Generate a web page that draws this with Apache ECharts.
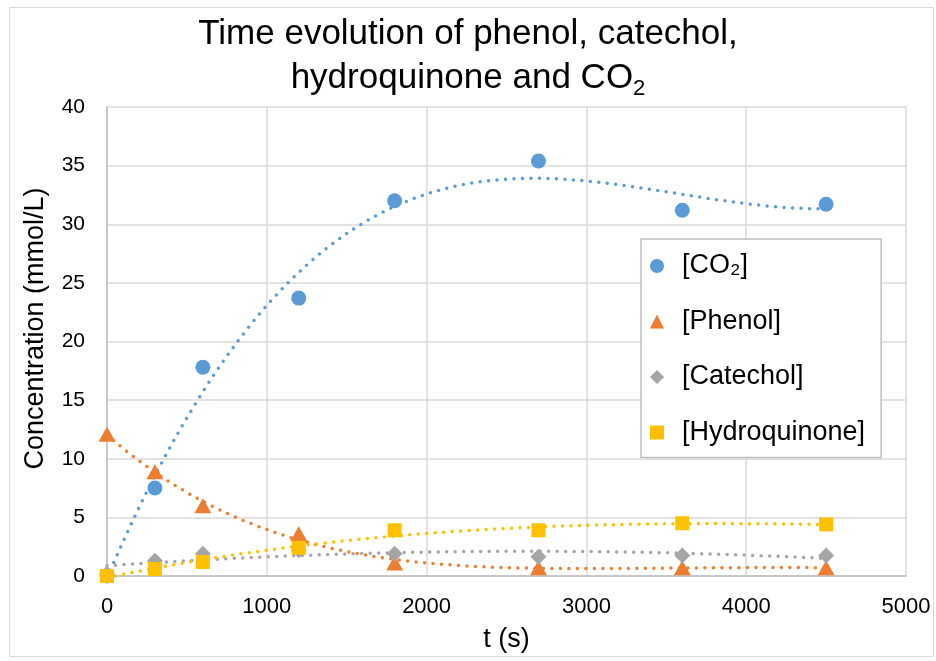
<!DOCTYPE html>
<html>
<head>
<meta charset="utf-8">
<title>Time evolution of phenol, catechol, hydroquinone and CO2</title>
<script src="https://cdn.jsdelivr.net/npm/echarts@6/dist/echarts.min.js"></script>
<style>
  html, body { margin: 0; padding: 0; background: #ffffff; }
  #chart { width: 936px; height: 661px; }
</style>
</head>
<body>
<div id="chart"></div>
<script>
// Sampling times (s)
const times = [0, 300, 600, 1200, 1800, 2700, 3600, 4500];

// Concentrations (mmol/L)
const co2          = [0.0, 7.5, 17.8, 23.7, 32.0, 35.4, 31.2, 31.7];
const phenol       = [12.1, 8.9, 6.0, 3.6, 1.1, 0.7, 0.7, 0.7];
const catechol     = [0.2, 1.3, 1.9, 2.2, 1.9, 1.65, 1.75, 1.75];
const hydroquinone = [0.0, 0.6, 1.2, 2.4, 3.9, 3.9, 4.5, 4.4];

const seriesNames = ['[CO\u2082]', '[Phenol]', '[Catechol]', '[Hydroquinone]'];
const seriesColors = ['#5B9BD5', '#ED7D31', '#A5A5A5', '#FFC000'];
// polynomial order of each dotted trendline
const trendOrders = [3, 4, 2, 3];

const xTicks = { min: 0, max: 5000, step: 1000 };
const yTicks = { min: 0, max: 40, step: 5 };

// Least-squares polynomial fit (time scaled to ks for stability)
function polyFit(xs, ys, order) {
  const n = order + 1;
  const A = [];
  for (let r = 0; r < n; r++) {
    A.push(new Array(n + 1).fill(0));
  }
  for (let i = 0; i < xs.length; i++) {
    const x = xs[i] / 1000;
    for (let r = 0; r < n; r++) {
      for (let c = 0; c < n; c++) A[r][c] += Math.pow(x, r + c);
      A[r][n] += ys[i] * Math.pow(x, r);
    }
  }
  for (let p = 0; p < n; p++) {
    let best = p;
    for (let r = p + 1; r < n; r++) if (Math.abs(A[r][p]) > Math.abs(A[best][p])) best = r;
    [A[p], A[best]] = [A[best], A[p]];
    for (let r = 0; r < n; r++) {
      if (r === p) continue;
      const f = A[r][p] / A[p][p];
      for (let c = p; c <= n; c++) A[r][c] -= f * A[p][c];
    }
  }
  return A.map((row, i) => row[n] / row[i]);
}

function trendData(ys, order) {
  const coef = polyFit(times, ys, order);
  const out = [];
  const x0 = times[0], x1 = times[times.length - 1];
  for (let x = x0; x <= x1; x += 20) {
    const t = x / 1000;
    let v = 0;
    for (let k = 0; k < coef.length; k++) v += coef[k] * Math.pow(t, k);
    out.push([x, v]);
  }
  return out;
}

const values = [co2, phenol, catechol, hydroquinone];
const symbols = ['circle', 'triangle', 'diamond', 'rect'];
const symbolSizes = [15, [17, 15], [16, 16], [14, 14]];

const series = [];
// dotted polynomial trendlines underneath the markers
values.forEach((ys, i) => {
  series.push({
    name: seriesNames[i] + ' trend',
    type: 'line',
    data: trendData(ys, trendOrders[i]),
    showSymbol: false,
    silent: true,
    z: 1,
    lineStyle: { color: seriesColors[i], width: 3.5, type: [0, 8.5], cap: 'round' }
  });
});
// measured points
values.forEach((ys, i) => {
  series.push({
    name: seriesNames[i],
    type: 'scatter',
    data: times.map((t, j) => [t, ys[j]]),
    symbol: symbols[i],
    symbolSize: symbolSizes[i],
    itemStyle: { color: seriesColors[i], opacity: 1 },
    z: 3 + i
  });
});

const font = '"Liberation Sans", Arial, sans-serif';

const chart = echarts.init(document.getElementById('chart'), null, { renderer: 'canvas' });
chart.setOption({
  backgroundColor: '#ffffff',
  animation: false,
  textStyle: { fontFamily: font },
  title: {
    text: 'Time evolution of phenol, catechol,\nhydroquinone and CO{sub|2}',
    left: 'center',
    top: 12,
    padding: [0, 0, 0, 8],
    textStyle: {
      fontFamily: font,
      fontSize: 35,
      fontWeight: 'normal',
      color: '#000000',
      lineHeight: 44,
      rich: {
        sub: { fontFamily: font, fontSize: 22, color: '#000000', verticalAlign: 'bottom', lineHeight: 24 }
      }
    }
  },
  graphic: [{
    type: 'rect',
    shape: { x: 9.5, y: 7.5, width: 924, height: 649 },
    style: { fill: 'none', stroke: '#D9D9D9', lineWidth: 1 },
    silent: true,
    z: -1
  }],
  legend: {
    data: seriesNames.map((n, i) => ({ name: n, icon: symbols[i] })),
    orient: 'vertical',
    left: 641,
    top: 239,
    itemWidth: 14,
    itemHeight: 14,
    itemGap: 27.5,
    padding: [13, 16, 11, 9],
    borderColor: '#BFBFBF',
    borderWidth: 1.5,
    backgroundColor: '#ffffff',
    textStyle: { fontFamily: font, fontSize: 27, color: '#000000', lineHeight: 28, padding: [0, 0, 0, 13] },
    z: 10
  },
  grid: { left: 107, right: 30, top: 107, bottom: 85, containLabel: false },
  xAxis: {
    type: 'value',
    min: xTicks.min,
    max: xTicks.max,
    interval: xTicks.step,
    name: 't (s)',
    nameLocation: 'middle',
    nameGap: 50,
    nameTextStyle: { fontFamily: font, fontSize: 27, color: '#000000' },
    axisLine: { show: true, lineStyle: { color: '#BFBFBF', width: 1.5 } },
    axisTick: { show: false },
    axisLabel: { fontFamily: font, fontSize: 22, color: '#000000', margin: 20, formatter: v => String(v) },
    splitLine: { show: true, lineStyle: { color: '#D9D9D9', width: 1.5 } }
  },
  yAxis: {
    type: 'value',
    min: yTicks.min,
    max: yTicks.max,
    interval: yTicks.step,
    name: 'Concentration (mmol/L)',
    nameLocation: 'middle',
    nameGap: 58,
    nameTextStyle: { fontFamily: font, fontSize: 27, color: '#000000', padding: [0, 0, 0, 26] },
    axisLine: { show: true, lineStyle: { color: '#BFBFBF', width: 1.5 } },
    axisTick: { show: false },
    axisLabel: { fontFamily: font, fontSize: 21, color: '#000000', margin: 22 },
    splitLine: { show: true, lineStyle: { color: '#D9D9D9', width: 1.5 } }
  },
  series: series
});
</script>
</body>
</html>
